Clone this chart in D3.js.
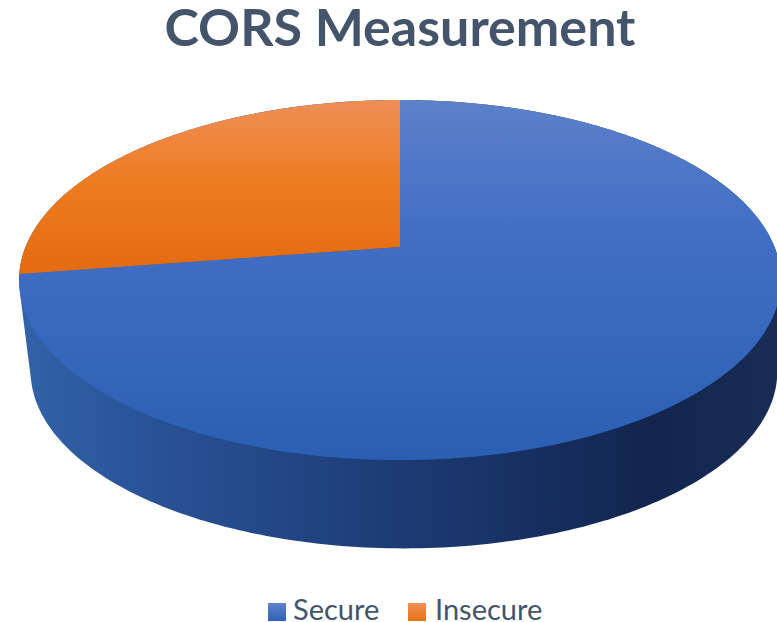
<!DOCTYPE html>
<html>
<head>
<meta charset="utf-8">
<script src="https://cdn.jsdelivr.net/npm/d3@7"></script>
<style>
html, body { margin: 0; padding: 0; background: #fff; overflow: hidden; }
text { font-family: Lato, "Open Sans", sans-serif; fill: #44546a; }
</style>
</head>
<body>
<svg id="chart"></svg>
<script>
let categories = ["Secure", "Insecure"];
let values = [72.6, 27.4];

let width = 777;
let height = 622;
let svg = d3.select("#chart").attr("width", width).attr("height", height);
let defs = svg.append("defs");

function addGradient(id, horizontal, stops, units) {
    let grad = defs.append("linearGradient").attr("id", id);
    if (units) {
        grad.attr("gradientUnits", "userSpaceOnUse")
            .attr("x1", units[0]).attr("y1", units[1])
            .attr("x2", units[2]).attr("y2", units[3]);
    } else {
        grad.attr("x1", 0).attr("y1", 0).attr("x2", horizontal ? 1 : 0).attr("y2", horizontal ? 0 : 1);
    }
    stops.forEach(d => grad.append("stop").attr("offset", d[0]).attr("stop-color", d[1]));
}

addGradient("blueTop", false, [[0, "#5d80c9"], [0.35, "#426fc6"], [1, "#2a5fb3"]], [0, 100, 0, 460]);
addGradient("orangeTop", false, [[0, "#ee8f57"], [0.45, "#ee7c21"], [1, "#e2690f"]], [0, 100, 0, 280]);
addGradient("wall", true, [[0, "#3262a8"], [0.15, "#2a5499"], [0.5, "#1c3b74"], [0.83, "#12254f"], [1, "#182c55"]], [20, 0, 777, 0]);
addGradient("blueKey", false, [[0, "#5f82cb"], [1, "#2f62b8"]]);
addGradient("orangeKey", false, [[0, "#f08f57"], [1, "#ea7114"]]);

let colors = d3.scaleOrdinal().domain(categories).range(["url(#blueTop)", "url(#orangeTop)"]);
let keyColors = d3.scaleOrdinal().domain(categories).range(["url(#blueKey)", "url(#orangeKey)"]);

// perspective tilt of the pie, unit circle -> screen
let tilt = 0.1833;
function project(a, cx, cy, rx, ry) {
    let X = Math.sin(a);
    let Y = -Math.cos(a);
    let w = 1 - tilt * Y;
    return [cx + rx * X / w, cy + ry * Y / w];
}
let topRim = a => project(a, 400, 247, 374.5, 174);
let bottomRim = a => project(a, 404, 339, 367, 171);

let pie = d3.pie().sort(null).value(d => d.value).startAngle(0).endAngle(2 * Math.PI);
let arcs = pie(categories.map((c, i) => ({ name: c, value: values[i] })));

// side wall: hull of both rims
let rimAngles = d3.range(0, 2 * Math.PI, Math.PI / 180);
let hull = d3.polygonHull(rimAngles.map(topRim).concat(rimAngles.map(bottomRim)));
svg.append("path")
    .attr("d", d3.line()(hull) + "Z")
    .attr("fill", "url(#wall)");

// top face
svg.append("g").selectAll("path")
    .data(arcs)
    .join("path")
    .attr("d", d => {
        let n = Math.ceil((d.endAngle - d.startAngle) * 90);
        let pts = d3.range(n + 1).map(i => topRim(d.startAngle + (d.endAngle - d.startAngle) * i / n));
        return d3.line()([[400, 247]].concat(pts)) + "Z";
    })
    .attr("fill", d => colors(d.data.name));

svg.append("text")
    .attr("x", 400)
    .attr("y", 46)
    .attr("text-anchor", "middle")
    .attr("font-size", 52)
    .attr("font-weight", 700)
    .text("CORS Measurement");

let keyX = [268, 408];
let legend = svg.append("g").selectAll("g")
    .data(categories)
    .join("g")
    .attr("transform", (d, i) => `translate(${keyX[i]},603)`);
legend.append("rect")
    .attr("width", 18)
    .attr("height", 18)
    .attr("fill", d => keyColors(d));
legend.append("text")
    .attr("x", (d, i) => i ? 27 : 25)
    .attr("y", 17)
    .attr("font-size", 29)
    .text(d => d);
</script>
</body>
</html>
